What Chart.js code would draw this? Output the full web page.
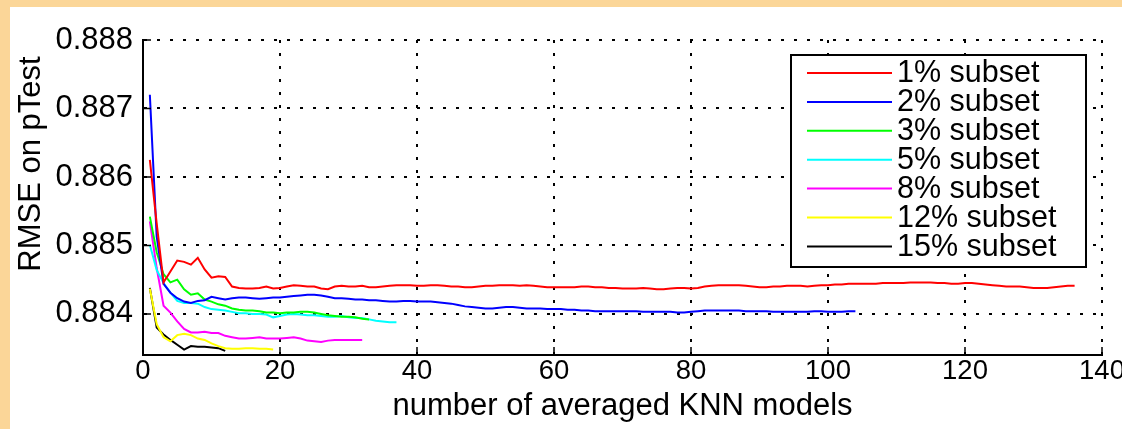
<!DOCTYPE html>
<html>
<head>
<meta charset="utf-8">
<script src="https://cdn.jsdelivr.net/npm/chart.js@4.4.1/dist/chart.umd.min.js"></script>
<style>
  html, body { margin: 0; padding: 0; width: 1122px; height: 429px; overflow: hidden; background: #fbd698; }
  #wrap { position: absolute; left: 10px; top: 7px; width: 1112px; height: 422px; background: #fff; }
</style>
</head>
<body>
<div id="wrap"><canvas id="rmseChart" width="1112" height="422"></canvas></div>
<script>
// RMSE on pTest vs number of averaged KNN models (x = 1..N)
var subsetLabels = ['1% subset', '2% subset', '3% subset', '5% subset', '8% subset', '12% subset', '15% subset'];
var subsetColors = ['#ff0000', '#0000ff', '#00ff00', '#00ffff', '#ff00ff', '#ffff00', '#000000'];

var rmse1 = [
    0.88625, 0.88532, 0.88446, 0.88462, 0.88478, 0.88476, 0.88472, 0.88482, 0.88465, 0.88453,
    0.88455, 0.88454, 0.88440, 0.88438, 0.88437, 0.88437, 0.88438, 0.88440, 0.88437, 0.88438,
    0.88440, 0.88442, 0.88441, 0.88440, 0.88440, 0.88437, 0.88436, 0.88440, 0.88441, 0.88440,
    0.88440, 0.88441, 0.88439, 0.88439, 0.88440, 0.88441, 0.88442, 0.88442, 0.88442, 0.88441,
    0.88441, 0.88442, 0.88442, 0.88441, 0.88440, 0.88440, 0.88439, 0.88439, 0.88440, 0.88441,
    0.88441, 0.88442, 0.88442, 0.88442, 0.88441, 0.88442, 0.88441, 0.88440, 0.88439, 0.88439,
    0.88439, 0.88439, 0.88439, 0.88440, 0.88440, 0.88439, 0.88439, 0.88438, 0.88438, 0.88437,
    0.88437, 0.88437, 0.88438, 0.88437, 0.88436, 0.88436, 0.88437, 0.88438, 0.88438, 0.88437,
    0.88438, 0.88440, 0.88441, 0.88442, 0.88442, 0.88442, 0.88442, 0.88441, 0.88440, 0.88439,
    0.88439, 0.88440, 0.88440, 0.88441, 0.88441, 0.88441, 0.88440, 0.88441, 0.88442, 0.88442,
    0.88443, 0.88443, 0.88444, 0.88444, 0.88444, 0.88444, 0.88444, 0.88445, 0.88445, 0.88445,
    0.88445, 0.88446, 0.88446, 0.88446, 0.88446, 0.88445, 0.88445, 0.88444, 0.88444, 0.88445,
    0.88445, 0.88444, 0.88443, 0.88442, 0.88441, 0.88440, 0.88440, 0.88440, 0.88439, 0.88438,
    0.88438, 0.88438, 0.88439, 0.88440, 0.88441, 0.88441
];
var rmse2 = [
    0.88720, 0.88513, 0.88444, 0.88431, 0.88423, 0.88418, 0.88416, 0.88419, 0.88420, 0.88425,
    0.88423, 0.88421, 0.88423, 0.88424, 0.88424, 0.88423, 0.88422, 0.88423, 0.88424, 0.88424,
    0.88425, 0.88426, 0.88427, 0.88428, 0.88428, 0.88427, 0.88425, 0.88423, 0.88423, 0.88422,
    0.88421, 0.88421, 0.88420, 0.88420, 0.88419, 0.88418, 0.88418, 0.88419, 0.88419, 0.88418,
    0.88418, 0.88418, 0.88417, 0.88416, 0.88415, 0.88413, 0.88411, 0.88410, 0.88409, 0.88408,
    0.88408, 0.88409, 0.88410, 0.88410, 0.88409, 0.88408, 0.88408, 0.88408, 0.88407, 0.88407,
    0.88407, 0.88406, 0.88406, 0.88405, 0.88405, 0.88404, 0.88404, 0.88404, 0.88404, 0.88404,
    0.88404, 0.88404, 0.88403, 0.88403, 0.88403, 0.88403, 0.88403, 0.88402, 0.88402, 0.88403,
    0.88404, 0.88405, 0.88405, 0.88405, 0.88405, 0.88405, 0.88405, 0.88404, 0.88404, 0.88404,
    0.88404, 0.88403, 0.88403, 0.88403, 0.88403, 0.88403, 0.88403, 0.88404, 0.88404, 0.88403,
    0.88403, 0.88403, 0.88404, 0.88404
];
var rmse3 = [
    0.88542, 0.88490, 0.88458, 0.88446, 0.88450, 0.88436, 0.88428, 0.88430, 0.88421, 0.88418,
    0.88414, 0.88412, 0.88408, 0.88406, 0.88405, 0.88405, 0.88404, 0.88402, 0.88402, 0.88401,
    0.88402, 0.88402, 0.88403, 0.88403, 0.88402, 0.88400, 0.88398, 0.88397, 0.88396, 0.88396,
    0.88395, 0.88393, 0.88392
];
var rmse5 = [
    0.88501, 0.88464, 0.88445, 0.88431, 0.88419, 0.88416, 0.88416, 0.88415, 0.88410, 0.88407,
    0.88406, 0.88405, 0.88403, 0.88401, 0.88401, 0.88400, 0.88400, 0.88399, 0.88395, 0.88397,
    0.88399, 0.88400, 0.88399, 0.88398, 0.88398, 0.88397, 0.88396, 0.88396, 0.88397, 0.88395,
    0.88394, 0.88394, 0.88392, 0.88390, 0.88389, 0.88388, 0.88388
];
var rmse8 = [
    0.88535, 0.88467, 0.88412, 0.88402, 0.88389, 0.88378, 0.88373, 0.88373, 0.88374, 0.88372,
    0.88372, 0.88368, 0.88366, 0.88364, 0.88364, 0.88365, 0.88366, 0.88364, 0.88364, 0.88364,
    0.88365, 0.88366, 0.88364, 0.88361, 0.88360, 0.88359, 0.88361, 0.88362, 0.88362, 0.88362,
    0.88362, 0.88362
];
var rmse12 = [
    0.88437, 0.88385, 0.88366, 0.88360, 0.88369, 0.88371, 0.88369, 0.88364, 0.88362, 0.88357,
    0.88353, 0.88350, 0.88349, 0.88349, 0.88350, 0.88350, 0.88349, 0.88349, 0.88348
];
var rmse15 = [
    0.88438, 0.88380, 0.88370, 0.88362, 0.88355, 0.88348, 0.88353, 0.88352, 0.88352, 0.88351,
    0.88350, 0.88346
];

var xTicks = [0, 20, 40, 60, 80, 100, 120, 140];
var yTicks = [0.884, 0.885, 0.886, 0.887, 0.888];
var xTitle = 'number of averaged KNN models';
var yTitle = 'RMSE on pTest';

var series = [rmse1, rmse2, rmse3, rmse5, rmse8, rmse12, rmse15];
var fontFamily = '"Liberation Sans", Arial, Helvetica, sans-serif';

function toPoints(arr) {
    return arr.map(function (v, i) { return { x: i + 1, y: v }; });
}

// inward tick marks, y label and boxed legend (matlab look)
var matlabExtras = {
    id: 'matlabExtras',
    afterDraw: function (chart) {
        var ctx = chart.ctx;
        var xs = chart.scales.x, ys = chart.scales.y;
        var area = chart.chartArea;

        ctx.save();
        ctx.strokeStyle = '#000';
        ctx.lineWidth = 1.5;
        ctx.beginPath();
        xs.ticks.forEach(function (t) {
            var px = xs.getPixelForValue(t.value);
            ctx.moveTo(px, area.bottom);
            ctx.lineTo(px, area.bottom - 8);
        });
        ys.ticks.forEach(function (t) {
            var py = ys.getPixelForValue(t.value);
            ctx.moveTo(area.left, py);
            ctx.lineTo(area.left + 8, py);
        });
        ctx.stroke();

        ctx.fillStyle = '#000';
        ctx.font = '31px ' + fontFamily;
        ctx.translate(21, 157);
        ctx.rotate(-Math.PI / 2);
        ctx.textAlign = 'center';
        ctx.textBaseline = 'middle';
        ctx.fillText(yTitle, 0, 0);
        ctx.restore();

        ctx.save();
        ctx.fillStyle = '#fff';
        ctx.fillRect(781, 48, 295, 212);
        ctx.strokeStyle = '#000';
        ctx.lineWidth = 2;
        ctx.strokeRect(781, 48, 295, 212);
        ctx.font = '30.5px ' + fontFamily;
        ctx.textBaseline = 'middle';
        ctx.textAlign = 'left';
        chart.data.datasets.forEach(function (ds, i) {
            var y = 66 + i * 28.9;
            ctx.strokeStyle = ds.borderColor;
            ctx.lineWidth = 2;
            ctx.beginPath();
            ctx.moveTo(797, y);
            ctx.lineTo(882, y);
            ctx.stroke();
            ctx.fillStyle = '#000';
            ctx.fillText(ds.label, 887, y + 1);
        });
        ctx.restore();
    }
};

var ctx = document.getElementById('rmseChart').getContext('2d');
new Chart(ctx, {
    type: 'line',
    data: {
        datasets: series.map(function (arr, i) {
            return {
                label: subsetLabels[i],
                data: toPoints(arr),
                borderColor: subsetColors[i],
                backgroundColor: subsetColors[i],
                borderWidth: 2,
                pointRadius: 0,
                tension: 0,
                fill: false
            };
        })
    },
    options: {
        responsive: false,
        animation: false,
        devicePixelRatio: 1,
        layout: { padding: { top: 33, right: 20, left: 0, bottom: 0 } },
        plugins: {
            legend: { display: false },
            tooltip: { enabled: false }
        },
        scales: {
            x: {
                type: 'linear',
                min: 0,
                max: 140,
                afterBuildTicks: function (s) {
                    s.ticks = xTicks.map(function (v) { return { value: v }; });
                },
                afterFit: function (s) {
                    s.height = 74;
                    s.paddingLeft = 0;
                    s.paddingRight = 0;
                },
                grid: { color: '#000', lineWidth: 2, drawTicks: false },
                border: { display: true, color: '#000', width: 2, dash: [3, 10] },
                ticks: {
                    color: '#000',
                    padding: 0,
                    maxRotation: 0,
                    font: { family: fontFamily, size: 27.5 }
                },
                title: {
                    display: true,
                    text: xTitle,
                    color: '#000',
                    padding: { top: 0, bottom: 4 },
                    font: { family: fontFamily, size: 31 }
                }
            },
            y: {
                type: 'linear',
                min: 0.8834,
                max: 0.888,
                afterBuildTicks: function (s) {
                    s.ticks = yTicks.map(function (v) { return { value: v }; });
                },
                afterFit: function (s) { s.width = 133; },
                grid: { color: '#000', lineWidth: 2, drawTicks: false },
                border: { display: true, color: '#000', width: 2, dash: [3, 10] },
                ticks: {
                    color: '#000',
                    padding: 10,
                    font: { family: fontFamily, size: 31 },
                    callback: function (v) { return v.toFixed(3); }
                }
            }
        }
    },
    plugins: [matlabExtras]
});
</script>
</body>
</html>
